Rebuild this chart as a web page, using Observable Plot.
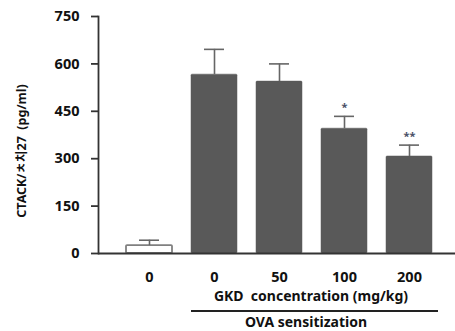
<!DOCTYPE html>
<html>
<head>
<meta charset="utf-8">
<script src="https://cdn.jsdelivr.net/npm/d3@7"></script>
<script src="https://cdn.jsdelivr.net/npm/@observablehq/plot@0.6"></script>
<style>
  html, body { margin: 0; padding: 0; background: #fff; }
  #wrap { position: relative; width: 455px; height: 331px; overflow: hidden;
    font-family: "Noto Sans", "Noto Sans CJK KR", sans-serif; font-weight: bold; color: #111; }
  #wrap svg { position: absolute; left: 0; top: 0; }
  .ann { position: absolute; white-space: pre; font-size: 14px; line-height: 1; }
</style>
</head>
<body>
<div id="wrap"></div>
<script>
const groups = ["ctrl", "0", "50", "100", "200"];
const tickLabels = ["0", "0", "50", "100", "200"];
const means = [25, 566, 544, 395, 307];
const errors = [17, 80, 56, 39, 36];
const stars = ["", "", "", "*", "**"];
const yTicks = [0, 150, 300, 450, 600, 750];

const data = groups.map((g, i) => ({ g, mean: means[i], err: errors[i], star: stars[i], ctrl: i === 0 }));

const chart = Plot.plot({
  width: 455,
  height: 331,
  marginTop: 16,
  marginBottom: 78,
  marginLeft: 98,
  marginRight: 0,
  style: { fontFamily: '"Noto Sans", "Noto Sans CJK KR", sans-serif', fontWeight: "bold", fontSize: "14px", color: "#111", background: "white" },
  x: { type: "band", domain: groups, range: [114, 443], paddingInner: 0.3, paddingOuter: 0.15 },
  y: { domain: [0, 750] },
  marks: [
    Plot.barY(data, { x: "g", y: "mean", fill: d => d.ctrl ? "white" : "#595959", stroke: d => d.ctrl ? "#808080" : "#595959", strokeWidth: d => d.ctrl ? 1.8 : 0.5, rx: 1 }),
    Plot.ruleX(data, { x: "g", y1: "mean", y2: d => d.mean + d.err, stroke: "#666", strokeWidth: 1.6 }),
    Plot.tickY(data, { x: "g", y: d => d.mean + d.err, stroke: "#666", strokeWidth: 1.6, insetLeft: 13, insetRight: 13 }),
    Plot.text(data, { x: "g", y: d => d.mean + d.err, text: "star", dy: -9, fill: "#4a5066", fontSize: 11 }),
    Plot.ruleY([0], { stroke: "#333", strokeWidth: 1.8 }),
    Plot.frame({ anchor: "left", stroke: "#333", strokeWidth: 1.8 }),
    Plot.axisY({ ticks: yTicks, tickSize: 7, tickPadding: 12, label: null, stroke: "#333", strokeWidth: 1.8, fontSize: 14.5 }),
    Plot.axisX({ tickSize: 0, tickPadding: 18, label: null, tickFormat: (d, i) => tickLabels[groups.indexOf(d)], fontSize: 14.5 })
  ]
});

const wrap = document.getElementById("wrap");
wrap.appendChild(chart);

const ylab = document.createElement("div");
ylab.className = "ann";
ylab.textContent = "CTACK/ㅊ치27  (pg/ml)";
ylab.style.left = "22px";
ylab.style.top = "151px";
ylab.style.transform = "translate(-50%, -50%) rotate(-90deg)";
ylab.style.fontSize = "12.5px";
wrap.appendChild(ylab);

const gkd = document.createElement("div");
gkd.className = "ann";
gkd.textContent = "GKD  concentration (mg/kg)";
gkd.style.left = "311px";
gkd.style.top = "296px";
gkd.style.transform = "translate(-50%, -50%)";
wrap.appendChild(gkd);

const line = document.createElement("div");
line.style.position = "absolute";
line.style.left = "191px";
line.style.width = "247px";
line.style.top = "310px";
line.style.height = "1.5px";
line.style.background = "#222";
wrap.appendChild(line);

const ova = document.createElement("div");
ova.className = "ann";
ova.textContent = "OVA sensitization";
ova.style.left = "306px";
ova.style.top = "315px";
ova.style.transform = "translateX(-50%)";
wrap.appendChild(ova);
</script>
</body>
</html>
